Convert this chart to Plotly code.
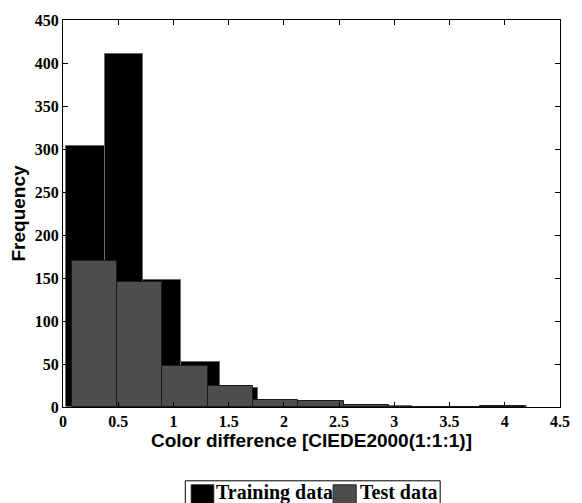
import plotly.graph_objects as go

# Training data histogram (12 bins)
train_start = 0.03
train_width = 0.3475
train_counts = [304, 411, 148, 52, 22, 6, 5, 2, 1, 0, 0, 1]

# Test data histogram (10 bins)
test_start = 0.077
test_width = 0.411
test_counts = [170, 145, 48, 24, 8, 7, 2, 0, 0, 1]

x_ticks = [0, 0.5, 1, 1.5, 2, 2.5, 3, 3.5, 4, 4.5]
x_ticklabels = ["0", "0.5", "1", "1.5", "2", "2.5", "3", "3.5", "4", "4.5"]
y_ticks = [0, 50, 100, 150, 200, 250, 300, 350, 400, 450]
series_names = ["Training data", "Test data"]
series_colors = ["#000000", "#4d4d4d"]

train_x = [train_start + train_width * (i + 0.5) for i in range(len(train_counts))]
test_x = [test_start + test_width * (i + 0.5) for i in range(len(test_counts))]

fig = go.Figure()
fig.add_trace(go.Bar(
    x=train_x, y=train_counts, width=train_width, name=series_names[0],
    marker=dict(color=series_colors[0], line=dict(color="#6a6a6a", width=1)),
))
fig.add_trace(go.Bar(
    x=test_x, y=test_counts, width=test_width, name=series_names[1],
    marker=dict(color=series_colors[1], line=dict(color="#1a1a1a", width=1)),
))

serif = "Liberation Serif, Times New Roman, serif"
sans = "Liberation Sans, Arial, sans-serif"
tickfont = dict(family=serif, size=16, color="black")
axis_common = dict(
    showline=True, linecolor="black", linewidth=1, mirror="allticks",
    ticks="inside", ticklen=5, tickcolor="black", showgrid=False,
    zeroline=False, tickfont=tickfont,
)

# Plot area geometry (pixels) for placing the hand-drawn legend below the axes
W, H = 582, 503
ML, MR, MT, MB = 63, 13, 19, 96
pw, ph = W - ML - MR, H - MT - MB
def px(x):
    return (x - ML) / pw
def py(y):
    return (H - MB - y) / ph

shapes = [
    dict(type="rect", xref="paper", yref="paper", x0=px(187.5), x1=px(447),
         y0=py(481), y1=py(515), line=dict(color="black", width=1), fillcolor="white", layer="above"),
    dict(type="rect", xref="paper", yref="paper", x0=px(193.5), x1=px(216.5),
         y0=py(485), y1=py(515), line=dict(color="#222", width=1), fillcolor=series_colors[0], layer="above"),
    dict(type="rect", xref="paper", yref="paper", x0=px(338), x1=px(361.5),
         y0=py(485), y1=py(515), line=dict(color="#222", width=1), fillcolor=series_colors[1], layer="above"),
]
annotations = [
    dict(text="<b>%s</b>" % series_names[0], xref="paper", yref="paper", x=px(217),
         y=py(479), xanchor="left", yanchor="top", showarrow=False,
         font=dict(family=serif, size=20, color="black")),
    dict(text="<b>%s</b>" % series_names[1], xref="paper", yref="paper", x=px(363),
         y=py(479), xanchor="left", yanchor="top", showarrow=False,
         font=dict(family=serif, size=20, color="black")),
]

fig.update_layout(
    width=W, height=H,
    margin=dict(l=ML, r=MR, t=MT, b=MB),
    paper_bgcolor="white", plot_bgcolor="white",
    barmode="overlay", bargap=0,
    showlegend=False,
    shapes=shapes, annotations=annotations,
    xaxis=dict(
        range=[0, 4.5], tickvals=x_ticks, ticktext=["<b>%s</b>" % t for t in x_ticklabels],
        title=dict(text="<b>Color difference [CIEDE2000(1:1:1)]</b>", standoff=2,
                   font=dict(family=sans, size=19, color="black")),
        **axis_common,
    ),
    yaxis=dict(
        range=[0, 450], tickvals=y_ticks, ticktext=["<b>%d</b>" % t for t in y_ticks],
        title=dict(text="<b>Frequency</b>", standoff=4,
                   font=dict(family=sans, size=19, color="black")),
        **axis_common,
    ),
)

fig.write_html("out.html")
